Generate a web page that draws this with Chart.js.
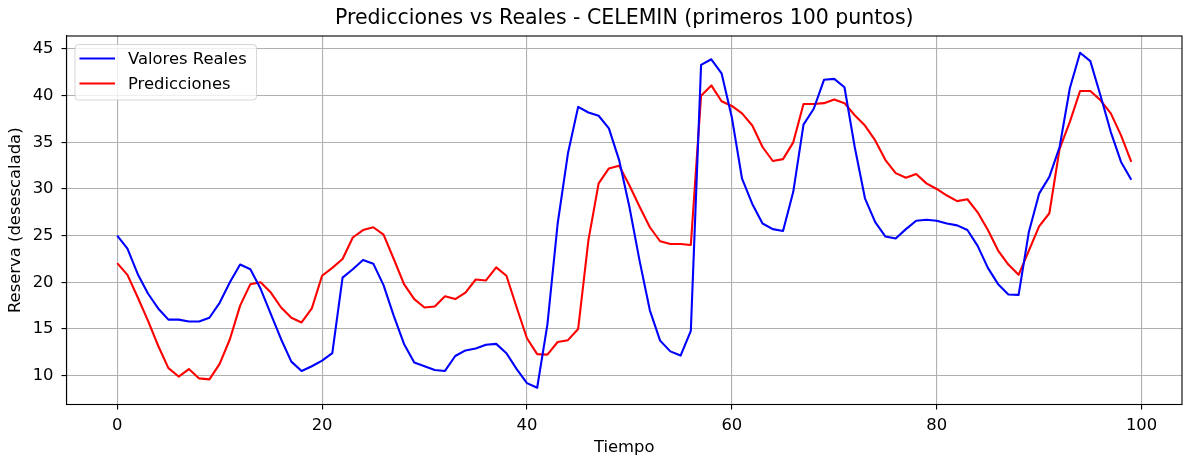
<!DOCTYPE html>
<html lang="es">
<head>
<meta charset="utf-8">
<title>Predicciones vs Reales - CELEMIN</title>
<script src="https://cdn.jsdelivr.net/npm/chart.js@4.4.1/dist/chart.umd.min.js"></script>
<style>
  html, body { margin: 0; padding: 0; background: #ffffff; }
  #wrap { width: 1184px; height: 458px; position: relative; }
</style>
</head>
<body>
<div id="wrap"><canvas id="celeminChart"></canvas></div>
<script>
// Serie CELEMIN: valores reales frente a predicciones (primeros 100 puntos)
const reales = [
  25.0, 23.6, 20.9, 18.8, 17.2, 16.0, 16.0, 15.8, 15.8, 16.2,
  17.8, 20.0, 21.9, 21.4, 19.3, 16.6, 13.9, 11.5, 10.5, 11.0,
  11.6, 12.4, 20.5, 21.4, 22.4, 22.0, 19.7, 16.4, 13.4, 11.4,
  11.0, 10.6, 10.5, 12.1, 12.7, 12.9, 13.3, 13.4, 12.4, 10.7,
  9.2, 8.7, 15.5, 26.3, 33.8, 38.8, 38.2, 37.85, 36.5, 33.1,
  28.1, 22.3, 17.0, 13.75, 12.6, 12.15, 14.8, 43.3, 43.9, 42.4,
  37.7, 31.1, 28.4, 26.3, 25.7, 25.5, 29.7, 36.9, 38.6, 41.7,
  41.8, 40.9, 34.5, 29.0, 26.45, 24.9, 24.7, 25.7, 26.6, 26.7,
  26.6, 26.3, 26.1, 25.6, 23.9, 21.55, 19.8, 18.7, 18.65, 25.4,
  29.5, 31.3, 34.5, 40.8, 44.6, 43.7, 40.0, 36.1, 32.9, 31.0
];

const predicciones = [
  22.05, 20.8, 18.4, 15.9, 13.2, 10.8, 9.9, 10.7, 9.7, 9.6,
  11.25, 13.9, 17.5, 19.8, 20.0, 18.9, 17.3, 16.2, 15.7, 17.2,
  20.7, 21.55, 22.5, 24.8, 25.6, 25.9, 25.1, 22.5, 19.8, 18.2,
  17.3, 17.4, 18.5, 18.2, 18.9, 20.3, 20.2, 21.6, 20.7, 17.3,
  14.0, 12.3, 12.25, 13.6, 13.8, 15.0, 24.5, 30.6, 32.2, 32.5,
  30.4, 28.1, 25.9, 24.4, 24.1, 24.1, 24.0, 40.0, 41.1, 39.4,
  38.9, 38.1, 36.8, 34.5, 33.0, 33.2, 35.0, 39.1, 39.1, 39.2,
  39.6, 39.2, 37.9, 36.8, 35.2, 33.1, 31.7, 31.2, 31.6, 30.6,
  30.0, 29.3, 28.7, 28.9, 27.5, 25.6, 23.4, 21.9, 20.8, 23.4,
  26.0, 27.4, 34.3, 37.2, 40.5, 40.5, 39.5, 38.1, 35.75, 32.9
];

// indice temporal de cada punto
const tiempo = reales.map((_, i) => i);

const xTicks = [0, 20, 40, 60, 80, 100];
const yTicks = [10, 15, 20, 25, 30, 35, 40, 45];

(function () {
  const FONT = 'DejaVu Sans';
  const TEXT_SIZE = 16.4;
  Chart.defaults.font.family = FONT;
  Chart.defaults.color = '#000000';

  function toPoints(values) {
    return values.map((v, i) => ({ x: tiempo[i], y: v }));
  }

  // matplotlib-style 5% margins around the data range
  function paddedRange(values) {
    const lo = Math.min.apply(null, values);
    const hi = Math.max.apply(null, values);
    const pad = (hi - lo) * 0.05;
    return { min: lo - pad, max: hi + pad };
  }

  const xRange = paddedRange(tiempo);
  const yRange = paddedRange(reales.concat(predicciones));

  // Box around the axes (top/right sides included)
  const framePlugin = {
    id: 'frame',
    afterDatasetsDraw(chart) {
      const { ctx, chartArea: a } = chart;
      ctx.save();
      ctx.strokeStyle = '#000000';
      ctx.lineWidth = 1.1;
      ctx.strokeRect(a.left, a.top, a.right - a.left, a.bottom - a.top);
      ctx.restore();
    }
  };

  // Legend drawn inside the plot, upper left
  const insideLegend = {
    id: 'insideLegend',
    afterDraw(chart) {
      const { ctx, chartArea: a } = chart;
      const sets = chart.data.datasets;
      const x = a.left + 8.5;
      const y = a.top + 8.5;
      const w = 181.5;
      const h = 55.5;
      const r = 3.5;

      ctx.save();
      ctx.beginPath();
      ctx.roundRect(x, y, w, h, r);
      ctx.fillStyle = 'rgba(255,255,255,0.8)';
      ctx.fill();
      ctx.strokeStyle = 'rgba(204,204,204,0.8)';
      ctx.lineWidth = 1;
      ctx.stroke();

      ctx.font = TEXT_SIZE + 'px "' + FONT + '"';
      ctx.textBaseline = 'middle';
      ctx.textAlign = 'left';
      sets.forEach(function (ds, i) {
        const ly = y + 14 + i * 25;
        ctx.beginPath();
        ctx.moveTo(x + 4.5, ly);
        ctx.lineTo(x + 40, ly);
        ctx.strokeStyle = ds.borderColor;
        ctx.lineWidth = 2.1;
        ctx.stroke();
        ctx.fillStyle = '#000000';
        ctx.fillText(ds.label, x + 53, ly + 1);
      });
      ctx.restore();
    }
  };

  const ctx = document.getElementById('celeminChart').getContext('2d');

  new Chart(ctx, {
    type: 'line',
    data: {
      datasets: [
        {
          label: 'Valores Reales',
          data: toPoints(reales),
          borderColor: '#0000ff',
          borderWidth: 2.1,
          borderJoinStyle: 'round',
          pointRadius: 0,
          tension: 0,
          fill: false,
        },
        {
          label: 'Predicciones',
          data: toPoints(predicciones),
          borderColor: '#ff0000',
          borderWidth: 2.1,
          borderJoinStyle: 'round',
          pointRadius: 0,
          tension: 0,
          fill: false,
        },
      ],
    },
    options: {
      responsive: true,
      maintainAspectRatio: false,
      animation: false,
      layout: {
        padding: { left: 0, right: 2, top: 0, bottom: 0 },
      },
      plugins: {
        legend: { display: false },
        tooltip: { enabled: false },
        title: {
          display: true,
          fullSize: false,
          text: 'Predicciones vs Reales - CELEMIN (primeros 100 puntos)',
          color: '#000000',
          font: { size: 20.5, weight: 'normal' },
          padding: { top: 6.5, bottom: 4.9 },
        },
      },
      scales: {
        x: {
          type: 'linear',
          min: xRange.min,
          max: xRange.max,
          afterBuildTicks(scale) {
            scale.ticks = xTicks.map((v) => ({ value: v }));
          },
          afterFit(scale) {
            scale.height = 53.5;
          },
          ticks: {
            font: { size: TEXT_SIZE },
            color: '#000000',
            padding: 6,
            maxRotation: 0,
            autoSkip: false,
          },
          grid: {
            color: '#b0b0b0',
            lineWidth: 1.1,
            tickColor: '#000000',
            tickLength: 5,
            tickWidth: 1.1,
          },
          border: { display: true, color: '#000000', width: 1.1 },
          title: {
            display: true,
            text: 'Tiempo',
            color: '#000000',
            font: { size: TEXT_SIZE },
            padding: { top: 0, bottom: 0 },
          },
        },
        y: {
          type: 'linear',
          min: yRange.min,
          max: yRange.max,
          afterBuildTicks(scale) {
            scale.ticks = yTicks.map((v) => ({ value: v }));
          },
          afterFit(scale) {
            scale.width = 66.5;
          },
          ticks: {
            font: { size: TEXT_SIZE },
            color: '#000000',
            padding: 8,
            autoSkip: false,
          },
          grid: {
            color: '#b0b0b0',
            lineWidth: 1.1,
            tickColor: '#000000',
            tickLength: 5,
            tickWidth: 1.1,
          },
          border: { display: true, color: '#000000', width: 1.1 },
          title: {
            display: true,
            text: 'Reserva (desescalada)',
            color: '#000000',
            font: { size: TEXT_SIZE },
            padding: { top: 5.7, bottom: 0 },
          },
        },
      },
    },
    plugins: [framePlugin, insideLegend],
  });
})();
</script>
</body>
</html>
